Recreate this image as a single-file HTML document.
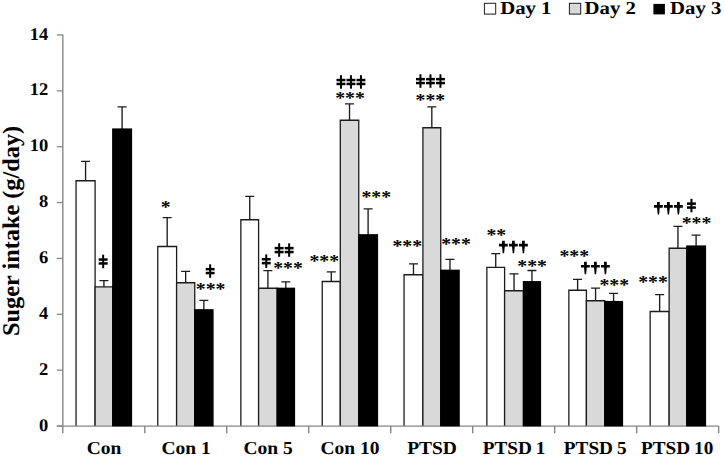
<!DOCTYPE html>
<html><head><meta charset="utf-8"><title>Suger intake</title>
<style>
html,body{margin:0;padding:0;background:#fff;}
body{width:724px;height:457px;overflow:hidden;}
svg{display:block;}
text{font-family:"Liberation Serif",serif;font-weight:bold;fill:#000;text-rendering:geometricPrecision;}
</style></head><body>
<svg width="724" height="457" viewBox="0 0 724 457">
<rect width="724" height="457" fill="#fff"/>
<defs>
<g id="dd"><rect x="3.45" y="0" width="2.0" height="13.5"/><rect x="0" y="3.6" width="8.9" height="2.5"/><rect x="0" y="7.5" width="8.9" height="2.5"/></g>
<g id="dg"><path d="M3.0 0 h2.8 v3.1 h3.0 v2.6 h-3.0 l-0.7 6.8 h-1.4 l-0.7 -6.8 h-3.0 v-2.6 h3.0z"/></g>
</defs>
<path d="M85.57 181.00V161.40M81.07 161.40H90.07" stroke="#1c1c1c" stroke-width="1.35" fill="none"/>
<path d="M103.92 287.20V280.55M99.42 280.55H108.42" stroke="#1c1c1c" stroke-width="1.35" fill="none"/>
<path d="M122.10 129.25V106.90M117.60 106.90H126.60" stroke="#1c1c1c" stroke-width="1.35" fill="none"/>
<path d="M76.05 426.00V180.75H95.10V426.00" fill="#fff" stroke="#1c1c1c" stroke-width="1.3"/>
<path d="M95.10 426.00V286.95H112.75V426.00" fill="#d9d9d9" stroke="#1c1c1c" stroke-width="1.3"/>
<path d="M167.18 246.75V217.65M162.68 217.65H171.68" stroke="#1c1c1c" stroke-width="1.35" fill="none"/>
<path d="M185.67 283.00V271.40M181.17 271.40H190.17" stroke="#1c1c1c" stroke-width="1.35" fill="none"/>
<path d="M203.85 310.00V300.40M199.35 300.40H208.35" stroke="#1c1c1c" stroke-width="1.35" fill="none"/>
<path d="M157.75 426.00V246.50H176.60V426.00" fill="#fff" stroke="#1c1c1c" stroke-width="1.3"/>
<path d="M176.60 426.00V282.75H194.75V426.00" fill="#d9d9d9" stroke="#1c1c1c" stroke-width="1.3"/>
<path d="M249.73 220.00V196.40M245.23 196.40H254.23" stroke="#1c1c1c" stroke-width="1.35" fill="none"/>
<path d="M267.90 288.50V270.65M263.40 270.65H272.40" stroke="#1c1c1c" stroke-width="1.35" fill="none"/>
<path d="M285.82 288.50V281.90M281.32 281.90H290.32" stroke="#1c1c1c" stroke-width="1.35" fill="none"/>
<path d="M240.85 426.00V219.75H258.60V426.00" fill="#fff" stroke="#1c1c1c" stroke-width="1.3"/>
<path d="M258.60 426.00V288.25H277.20V426.00" fill="#d9d9d9" stroke="#1c1c1c" stroke-width="1.3"/>
<path d="M331.27 281.75V271.90M326.77 271.90H335.77" stroke="#1c1c1c" stroke-width="1.35" fill="none"/>
<path d="M349.53 120.50V103.90M345.03 103.90H354.03" stroke="#1c1c1c" stroke-width="1.35" fill="none"/>
<path d="M368.10 235.00V208.90M363.60 208.90H372.60" stroke="#1c1c1c" stroke-width="1.35" fill="none"/>
<path d="M322.25 426.00V281.50H340.30V426.00" fill="#fff" stroke="#1c1c1c" stroke-width="1.3"/>
<path d="M340.30 426.00V120.25H358.75V426.00" fill="#d9d9d9" stroke="#1c1c1c" stroke-width="1.3"/>
<path d="M413.48 275.00V263.90M408.98 263.90H417.98" stroke="#1c1c1c" stroke-width="1.35" fill="none"/>
<path d="M431.82 128.00V106.90M427.32 106.90H436.32" stroke="#1c1c1c" stroke-width="1.35" fill="none"/>
<path d="M449.95 270.50V259.40M445.45 259.40H454.45" stroke="#1c1c1c" stroke-width="1.35" fill="none"/>
<path d="M404.05 426.00V274.75H422.90V426.00" fill="#fff" stroke="#1c1c1c" stroke-width="1.3"/>
<path d="M422.90 426.00V127.75H440.75V426.00" fill="#d9d9d9" stroke="#1c1c1c" stroke-width="1.3"/>
<path d="M495.73 267.70V253.65M491.23 253.65H500.23" stroke="#1c1c1c" stroke-width="1.35" fill="none"/>
<path d="M514.03 291.00V273.85M509.53 273.85H518.53" stroke="#1c1c1c" stroke-width="1.35" fill="none"/>
<path d="M531.95 281.90V270.45M527.45 270.45H536.45" stroke="#1c1c1c" stroke-width="1.35" fill="none"/>
<path d="M486.85 426.00V267.45H504.60V426.00" fill="#fff" stroke="#1c1c1c" stroke-width="1.3"/>
<path d="M504.60 426.00V290.75H523.45V426.00" fill="#d9d9d9" stroke="#1c1c1c" stroke-width="1.3"/>
<path d="M577.62 290.50V279.40M573.12 279.40H582.12" stroke="#1c1c1c" stroke-width="1.35" fill="none"/>
<path d="M595.58 301.00V288.15M591.08 288.15H600.08" stroke="#1c1c1c" stroke-width="1.35" fill="none"/>
<path d="M613.60 301.75V293.40M609.10 293.40H618.10" stroke="#1c1c1c" stroke-width="1.35" fill="none"/>
<path d="M568.85 426.00V290.25H586.40V426.00" fill="#fff" stroke="#1c1c1c" stroke-width="1.3"/>
<path d="M586.40 426.00V300.75H604.75V426.00" fill="#d9d9d9" stroke="#1c1c1c" stroke-width="1.3"/>
<path d="M659.65 311.75V294.65M655.15 294.65H664.15" stroke="#1c1c1c" stroke-width="1.35" fill="none"/>
<path d="M677.95 248.50V226.40M673.45 226.40H682.45" stroke="#1c1c1c" stroke-width="1.35" fill="none"/>
<path d="M696.10 246.25V235.15M691.60 235.15H700.60" stroke="#1c1c1c" stroke-width="1.35" fill="none"/>
<path d="M650.15 426.00V311.50H669.15V426.00" fill="#fff" stroke="#1c1c1c" stroke-width="1.3"/>
<path d="M669.15 426.00V248.25H686.75V426.00" fill="#d9d9d9" stroke="#1c1c1c" stroke-width="1.3"/>
<path d="M62.80 34.6V426.50" stroke="#868686" stroke-width="1.4" fill="none"/>
<path d="M56.80 426.10H718.64" stroke="#868686" stroke-width="1.1" fill="none"/>
<path d="M62.80 426.00V433.20" stroke="#868686" stroke-width="1.4" fill="none"/>
<path d="M144.78 426.00V433.20" stroke="#868686" stroke-width="1.4" fill="none"/>
<path d="M226.76 426.00V433.20" stroke="#868686" stroke-width="1.4" fill="none"/>
<path d="M308.74 426.00V433.20" stroke="#868686" stroke-width="1.4" fill="none"/>
<path d="M390.72 426.00V433.20" stroke="#868686" stroke-width="1.4" fill="none"/>
<path d="M472.70 426.00V433.20" stroke="#868686" stroke-width="1.4" fill="none"/>
<path d="M554.68 426.00V433.20" stroke="#868686" stroke-width="1.4" fill="none"/>
<path d="M636.66 426.00V433.20" stroke="#868686" stroke-width="1.4" fill="none"/>
<path d="M718.64 426.00V433.20" stroke="#868686" stroke-width="1.4" fill="none"/>
<rect x="112.10" y="128.40" width="20.00" height="298.00" fill="#000"/>
<rect x="194.10" y="309.15" width="19.50" height="117.25" fill="#000"/>
<rect x="276.55" y="287.65" width="18.55" height="138.75" fill="#000"/>
<rect x="358.10" y="234.15" width="20.00" height="192.25" fill="#000"/>
<rect x="440.10" y="269.65" width="19.70" height="156.75" fill="#000"/>
<rect x="522.80" y="281.05" width="18.30" height="145.35" fill="#000"/>
<rect x="604.10" y="300.90" width="19.00" height="125.50" fill="#000"/>
<rect x="686.10" y="245.40" width="20.00" height="181.00" fill="#000"/>
<path d="M56.80 426.00H62.80" stroke="#868686" stroke-width="1.3" fill="none"/>
<text transform="translate(48.3 430.55) scale(1.04 1)" font-size="17.8" text-anchor="end">0</text>
<path d="M56.80 370.14H62.80" stroke="#868686" stroke-width="1.3" fill="none"/>
<text transform="translate(48.3 374.69) scale(1.04 1)" font-size="17.8" text-anchor="end">2</text>
<path d="M56.80 314.28H62.80" stroke="#868686" stroke-width="1.3" fill="none"/>
<text transform="translate(48.3 318.83) scale(1.04 1)" font-size="17.8" text-anchor="end">4</text>
<path d="M56.80 258.42H62.80" stroke="#868686" stroke-width="1.3" fill="none"/>
<text transform="translate(48.3 262.97) scale(1.04 1)" font-size="17.8" text-anchor="end">6</text>
<path d="M56.80 202.56H62.80" stroke="#868686" stroke-width="1.3" fill="none"/>
<text transform="translate(48.3 207.11) scale(1.04 1)" font-size="17.8" text-anchor="end">8</text>
<path d="M56.80 146.70H62.80" stroke="#868686" stroke-width="1.3" fill="none"/>
<text transform="translate(48.3 151.25) scale(1.04 1)" font-size="17.8" text-anchor="end">10</text>
<path d="M56.80 90.84H62.80" stroke="#868686" stroke-width="1.3" fill="none"/>
<text transform="translate(48.3 95.39) scale(1.04 1)" font-size="17.8" text-anchor="end">12</text>
<path d="M56.80 34.98H62.80" stroke="#868686" stroke-width="1.3" fill="none"/>
<text transform="translate(48.3 39.53) scale(1.04 1)" font-size="17.8" text-anchor="end">14</text>
<text transform="translate(104.09 453.9) scale(1.065 1)" font-size="18.3" text-anchor="middle" word-spacing="0">Con</text>
<text transform="translate(186.07 453.9) scale(1.065 1)" font-size="18.3" text-anchor="middle" word-spacing="0">Con 1</text>
<text transform="translate(268.05 453.9) scale(1.065 1)" font-size="18.3" text-anchor="middle" word-spacing="0">Con 5</text>
<text transform="translate(350.03 453.9) scale(1.065 1)" font-size="18.3" text-anchor="middle" word-spacing="0">Con 10</text>
<text transform="translate(432.01 453.9) scale(1.065 1)" font-size="18.3" text-anchor="middle" word-spacing="0">PTSD</text>
<text transform="translate(513.99 453.9) scale(1.05 1)" font-size="18.3" text-anchor="middle" word-spacing="-0.8">PTSD 1</text>
<text transform="translate(595.17 453.9) scale(1.05 1)" font-size="18.3" text-anchor="middle" word-spacing="-0.8">PTSD 5</text>
<text transform="translate(677.15 453.9) scale(1.05 1)" font-size="18.3" text-anchor="middle" word-spacing="-0.8">PTSD 10</text>
<text transform="translate(18.9 230.9) rotate(-90) scale(1.012 1)" font-size="24" text-anchor="middle">Suger intake (g/day)</text>
<rect x="484.40" y="3.3" width="11.3" height="10.8" fill="#fff" stroke="#1c1c1c" stroke-width="1"/>
<text transform="translate(500.20 14.4) scale(1.135 1)" font-size="18.3">Day 1</text>
<rect x="569.40" y="3.3" width="11.3" height="10.8" fill="#d9d9d9" stroke="#1c1c1c" stroke-width="1"/>
<text transform="translate(584.60 14.4) scale(1.135 1)" font-size="18.3">Day 2</text>
<rect x="653.4" y="3.9" width="11.5" height="10.5" fill="#000"/>
<text transform="translate(670.10 14.4) scale(1.135 1)" font-size="18.3">Day 3</text>
<text transform="translate(160.65 212.70) scale(1.08 1)" font-size="18.3">*</text>
<text transform="translate(195.80 295.20) scale(1.08 1)" font-size="18.3">***</text>
<text transform="translate(273.20 274.30) scale(1.08 1)" font-size="18.3">***</text>
<text transform="translate(309.40 266.70) scale(1.08 1)" font-size="18.3">***</text>
<text transform="translate(335.15 104.20) scale(1.08 1)" font-size="18.3">***</text>
<text transform="translate(361.40 202.70) scale(1.08 1)" font-size="18.3">***</text>
<text transform="translate(392.40 252.20) scale(1.08 1)" font-size="18.3">***</text>
<text transform="translate(415.60 105.60) scale(1.08 1)" font-size="18.3">***</text>
<text transform="translate(441.15 250.20) scale(1.08 1)" font-size="18.3">***</text>
<text transform="translate(486.40 241.20) scale(1.08 1)" font-size="18.3">**</text>
<text transform="translate(517.30 272.00) scale(1.08 1)" font-size="18.3">***</text>
<text transform="translate(559.40 262.20) scale(1.08 1)" font-size="18.3">***</text>
<text transform="translate(599.40 290.95) scale(1.08 1)" font-size="18.3">***</text>
<text transform="translate(638.15 288.45) scale(1.08 1)" font-size="18.3">***</text>
<text transform="translate(681.65 229.20) scale(1.08 1)" font-size="18.3">***</text>
<use href="#dd" x="98.70" y="254.70"/>
<use href="#dd" x="205.70" y="264.30"/>
<use href="#dd" x="261.80" y="254.40"/>
<use href="#dd" x="274.70" y="243.30"/>
<use href="#dd" x="284.70" y="243.30"/>
<use href="#dd" x="336.50" y="75.20"/>
<use href="#dd" x="346.50" y="75.20"/>
<use href="#dd" x="356.50" y="75.20"/>
<use href="#dd" x="416.00" y="74.30"/>
<use href="#dd" x="426.00" y="74.30"/>
<use href="#dd" x="436.00" y="74.30"/>
<use href="#dd" x="687.00" y="198.80"/>
<use href="#dg" x="499.00" y="240.70"/>
<use href="#dg" x="509.00" y="240.70"/>
<use href="#dg" x="519.00" y="240.70"/>
<use href="#dg" x="581.00" y="261.80"/>
<use href="#dg" x="591.00" y="261.80"/>
<use href="#dg" x="601.00" y="261.80"/>
<use href="#dg" x="654.00" y="202.00"/>
<use href="#dg" x="664.00" y="202.00"/>
<use href="#dg" x="674.00" y="202.00"/>
</svg>
</body></html>
